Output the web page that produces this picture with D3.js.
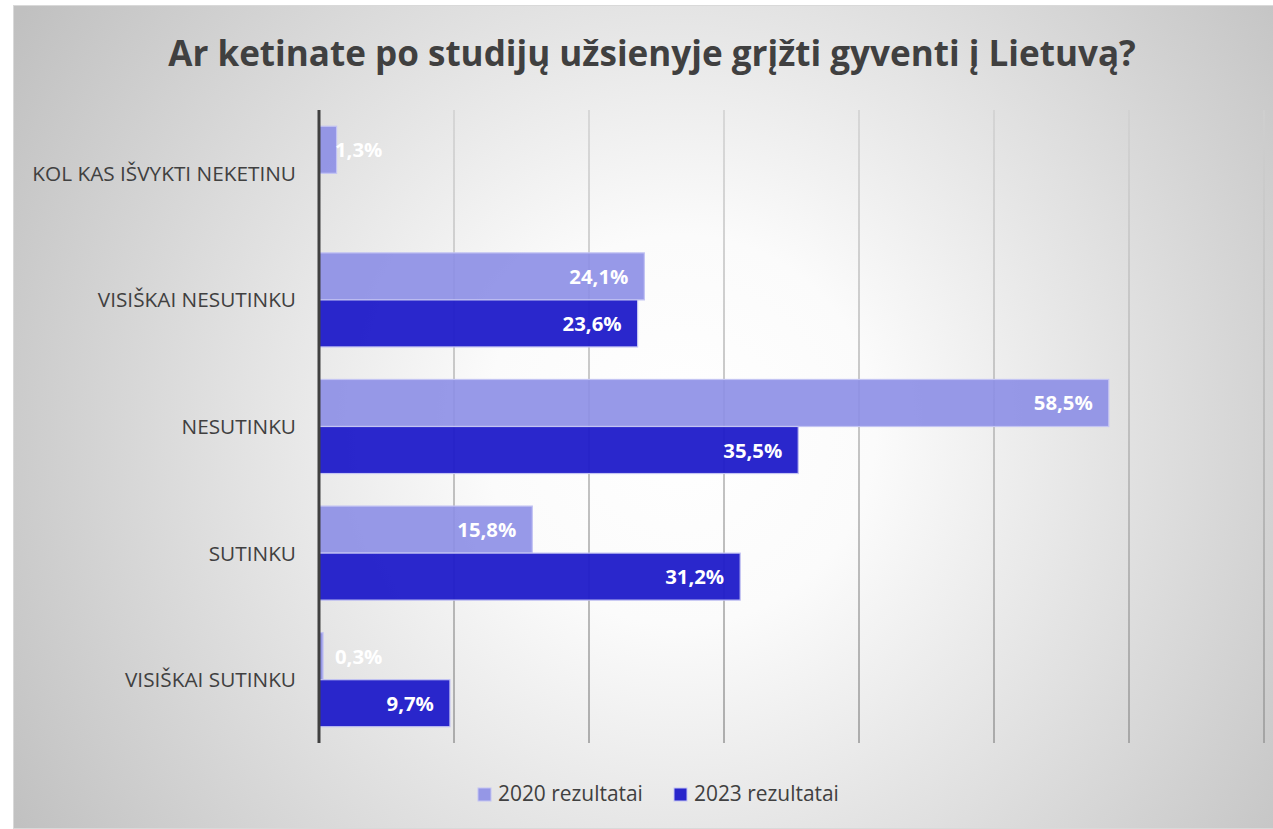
<!DOCTYPE html>
<html>
<head>
<meta charset="utf-8">
<script src="https://cdn.jsdelivr.net/npm/d3@7"></script>
<style>
  body { margin: 0; background: #fff; }
  svg { display: block; font-family: "Open Sans", sans-serif; }
</style>
</head>
<body>
<svg id="chart" width="1273" height="829"></svg>
<script>
const title = "Ar ketinate po studijų užsienyje grįžti gyventi į Lietuvą?";
const categories = ["KOL KAS IŠVYKTI NEKETINU", "VISIŠKAI NESUTINKU", "NESUTINKU", "SUTINKU", "VISIŠKAI SUTINKU"];
const seriesNames = ["2020 rezultatai", "2023 rezultatai"];
const values2020 = [1.3, 24.1, 58.5, 15.8, 0.3];
const values2023 = [null, 23.6, 35.5, 31.2, 9.7];
const xTicks = [0, 10, 20, 30, 40, 50, 60, 70];

const svg = d3.select("#chart");
const plotLeft = 319, plotRight = 1264, plotTop = 110, plotBottom = 743;
const textColor = "#404040";

// scale font so the text fills a width
function fit(sel, target) {
  const w = sel.node().getComputedTextLength();
  const fs = parseFloat(sel.attr("font-size")) * target / w;
  sel.attr("font-size", fs);
  return fs;
}

// background
const defs = svg.append("defs");
const bg = defs.append("radialGradient").attr("id", "bg")
  .attr("gradientUnits", "userSpaceOnUse")
  .attr("cx", 680).attr("cy", 430).attr("r", 780);
bg.append("stop").attr("offset", 0).attr("stop-color", "#ffffff");
bg.append("stop").attr("offset", 0.25).attr("stop-color", "#fbfbfb");
bg.append("stop").attr("offset", 1).attr("stop-color", "#c0c0c0");

const gl = defs.append("linearGradient").attr("id", "grid")
  .attr("gradientUnits", "userSpaceOnUse")
  .attr("x1", 0).attr("y1", plotTop).attr("x2", 0).attr("y2", plotBottom);
gl.append("stop").attr("offset", 0).attr("stop-color", "#d0d0d0");
gl.append("stop").attr("offset", 1).attr("stop-color", "#979797");

svg.append("rect")
  .attr("x", 13.5).attr("y", 5.5).attr("width", 1260).attr("height", 823)
  .attr("fill", "url(#bg)").attr("stroke", "#d9d9d9");

// title
const t = svg.append("text")
  .attr("x", 652).attr("y", 66)
  .attr("text-anchor", "middle")
  .attr("font-size", 36).attr("font-weight", "bold")
  .attr("fill", textColor)
  .text(title);
fit(t, 968);

// scales
const x = d3.scaleLinear().domain([0, 70]).range([plotLeft, plotRight]);
const y = d3.scaleBand().domain(categories).range([plotTop, plotBottom])
  .paddingInner(0.257).paddingOuter(0.1285);
const ySub = d3.scaleBand().domain(seriesNames).range([0, y.bandwidth()]);

// gridlines
svg.append("g").selectAll("line")
  .data(xTicks.slice(1))
  .enter()
  .append("line")
  .attr("x1", d => x(d)).attr("x2", d => x(d))
  .attr("y1", plotTop).attr("y2", plotBottom)
  .attr("stroke", "url(#grid)")
  .attr("stroke-width", 1.5);

// bars
const colors = ["#8c8ee6", "#1f1bc9"];
const opac = [0.9, 0.95];
const rows = [];
categories.forEach((c, i) => {
  [values2020[i], values2023[i]].forEach((v, s) => {
    if (v != null) rows.push({ cat: c, series: seriesNames[s], s: s, value: v });
  });
});

svg.append("g").selectAll("rect")
  .data(rows)
  .enter()
  .append("rect")
  .attr("x", x(0))
  .attr("y", d => y(d.cat) + ySub(d.series))
  .attr("width", d => x(d.value) - x(0))
  .attr("height", ySub.bandwidth())
  .attr("fill", d => colors[d.s])
  .attr("fill-opacity", d => opac[d.s])
  .attr("stroke", "#c3c4f3")
  .attr("stroke-width", 1.2);

// data labels
const fmt = v => v.toFixed(1).replace(".", ",") + "%";
const probe = svg.append("text").attr("font-size", 20).attr("font-weight", "bold").text(fmt(24.1));
const labelSize = fit(probe, 59);
probe.remove();

const labels = svg.append("g").selectAll("text")
  .data(rows)
  .enter()
  .append("text")
  .attr("font-size", labelSize)
  .attr("font-weight", "bold")
  .attr("fill", "#ffffff")
  .attr("text-anchor", "end")
  .attr("y", d => y(d.cat) + ySub(d.series) + ySub.bandwidth() / 2 + 7.5)
  .text(d => fmt(d.value));
labels.attr("x", function(d) {
  const w = this.getComputedTextLength();
  return Math.max(x(d.value) - 16, x(0) + 16 + w);
});

// category axis
const catProbe = svg.append("text").attr("font-size", 20).text(categories[0]);
const catSize = fit(catProbe, 264);
catProbe.remove();

svg.append("g").selectAll("text")
  .data(categories)
  .enter()
  .append("text")
  .attr("x", 296)
  .attr("y", d => y(d) + y.bandwidth() / 2 + 7.5)
  .attr("text-anchor", "end")
  .attr("font-size", catSize)
  .attr("fill", textColor)
  .text(d => d);

svg.append("line")
  .attr("x1", x(0)).attr("x2", x(0))
  .attr("y1", plotTop).attr("y2", plotBottom)
  .attr("stroke", "#404040")
  .attr("stroke-width", 3);

// legend
const legProbe = svg.append("text").attr("font-size", 20).text(seriesNames[0]);
const legSize = fit(legProbe, 145);
legProbe.remove();

const legX = [478, 674];
const leg = svg.append("g").selectAll("g")
  .data(seriesNames)
  .enter()
  .append("g")
  .attr("transform", (d, i) => "translate(" + legX[i] + ",788)");
leg.append("rect")
  .attr("width", 13).attr("height", 13)
  .attr("fill", (d, i) => colors[i])
  .attr("fill-opacity", (d, i) => opac[i])
  .attr("stroke", "#c3c4f3");
leg.append("text")
  .attr("x", 20).attr("y", 13)
  .attr("font-size", legSize)
  .attr("fill", textColor)
  .text(d => d);
</script>
</body>
</html>
